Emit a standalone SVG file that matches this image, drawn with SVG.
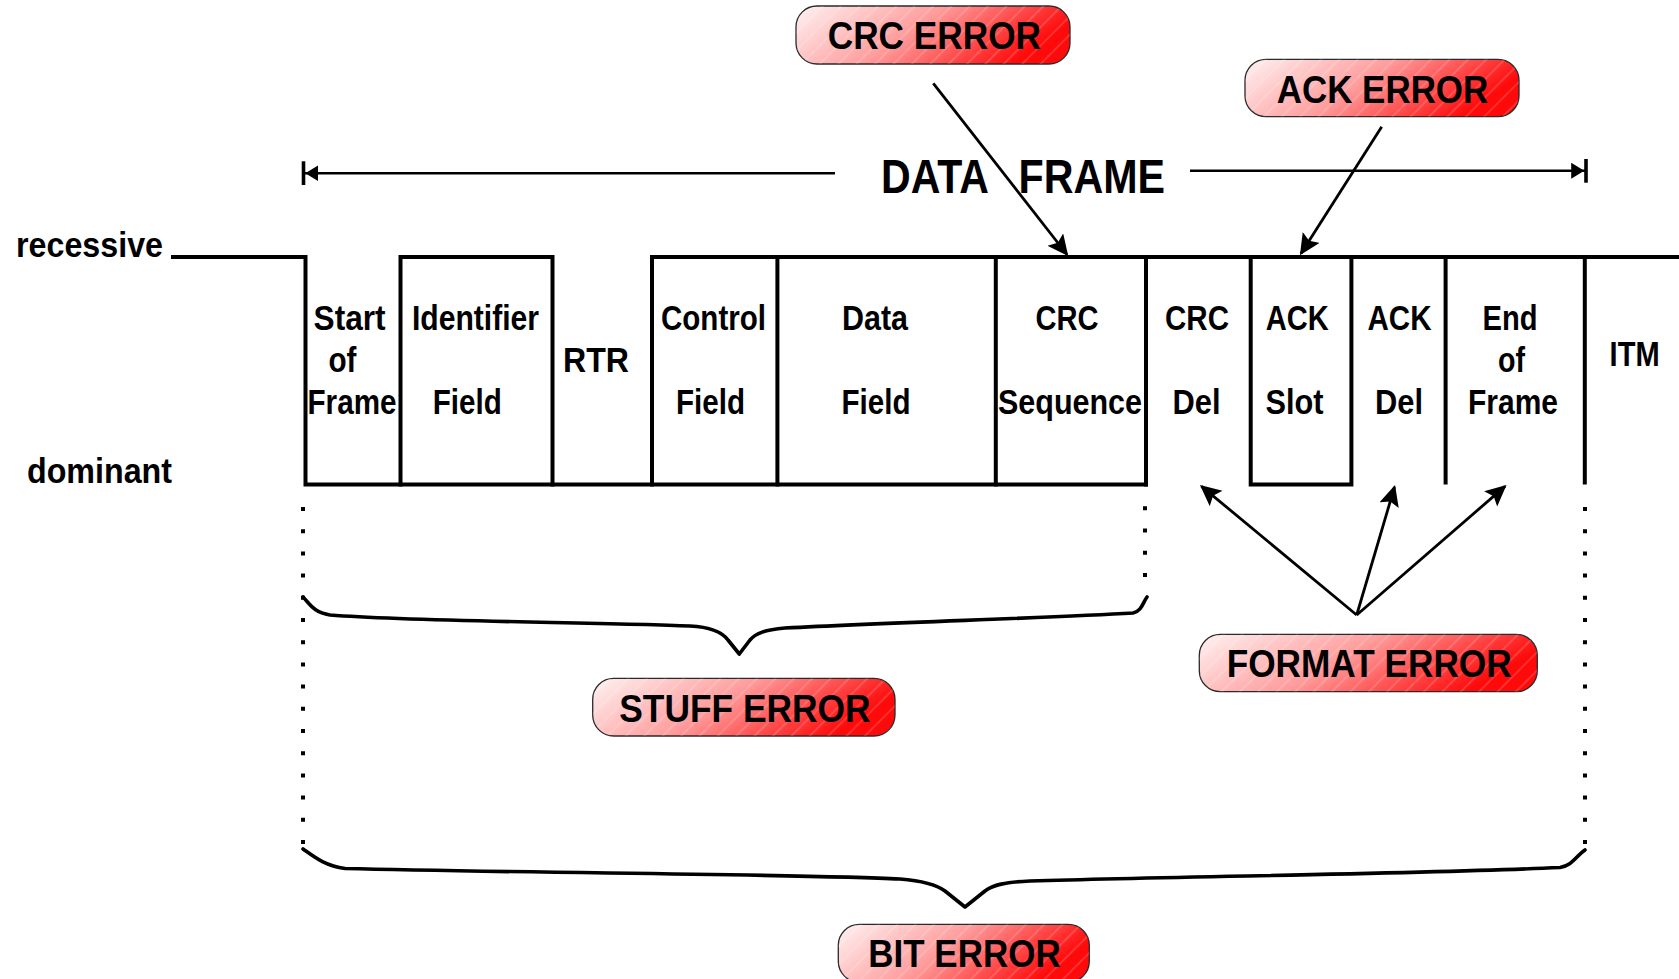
<svg xmlns="http://www.w3.org/2000/svg" width="1679" height="979" viewBox="0 0 1679 979">
  <style>
    .lbl { font-family: "Liberation Sans", Arial, sans-serif; font-weight: bold; font-size: 35px; fill: #000; }
    .big { font-family: "Liberation Sans", Arial, sans-serif; font-weight: bold; font-size: 49px; fill: #000; }
    .tag { font-family: "Liberation Sans", Arial, sans-serif; font-weight: bold; font-size: 39px; fill: #000; }
    .wave { fill: none; stroke: #000; stroke-width: 4; stroke-linecap: square; }
    .dots { fill: none; stroke: #000; stroke-width: 4; stroke-dasharray: 4 18.2; }
    .brace { fill: none; stroke: #000; stroke-width: 3.6; stroke-linecap: round; stroke-linejoin: round; }
    .arrow { fill: none; stroke: #000; stroke-width: 2.8; marker-end: url(#head); }
    .span { fill: none; stroke: #000; stroke-width: 2.6; marker-end: url(#barHead); }
    .pill { fill: url(#pillFill); stroke: #2a2a2a; stroke-width: 1.3; }
    .hatch { fill: url(#stripes); stroke: none; }
  </style>
  <defs>
    <linearGradient id="pillFill" x1="0" y1="0" x2="1" y2="0.3">
      <stop offset="0" stop-color="#fff3f3"/>
      <stop offset="0.5" stop-color="#ff9c9c"/>
      <stop offset="1" stop-color="#ff0a0a"/>
    </linearGradient>
    <pattern id="stripes" width="13" height="13" patternUnits="userSpaceOnUse" patternTransform="rotate(45)">
      <line x1="1" y1="0" x2="1" y2="13" stroke="#ffffff" stroke-width="1" stroke-opacity="0.3"/>
    </pattern>
    <marker id="head" markerUnits="userSpaceOnUse" markerWidth="24" markerHeight="22" refX="19" refY="10" orient="auto">
      <path d="M0,0 L21,10 L0,20 L4,10 Z" fill="#000"/>
    </marker>
    <marker id="barHead" markerUnits="userSpaceOnUse" markerWidth="20" markerHeight="26" refX="14.8" refY="12" orient="auto">
      <path d="M0,4 L13,12 L0,20 Z" fill="#000"/>
      <rect x="13" y="0" width="3.6" height="24" fill="#000"/>
    </marker>
  </defs>

  <rect x="0" y="0" width="1679" height="979" fill="#ffffff"/>

  <!-- bus level labels -->
  <g id="levels">
    <text class="lbl" x="16" y="256.5" textLength="147" lengthAdjust="spacingAndGlyphs">recessive</text>
    <text class="lbl" x="27" y="483" textLength="145" lengthAdjust="spacingAndGlyphs">dominant</text>
  </g>

  <!-- bit-level waveform of the frame -->
  <g id="waveform">
    <path class="wave" d="M173,257 H305.5 V484.5 H1146"/>
    <path class="wave" d="M400.5,484.5 V257 H552.5 V484.5"/>
    <path class="wave" d="M652,484.5 V257 H1677"/>
    <path class="wave" d="M777.4,257 V484.5 M995.8,257 V484.5 M1146,257 V484.5"/>
    <path class="wave" d="M1250.7,257 V484.5 H1351.4 V257"/>
    <path class="wave" d="M1445.6,257 V482.5 M1584.8,257 V482.5"/>
  </g>

  <!-- frame fields -->
  <g id="field-sof">
    <text class="lbl" x="313.6" y="330" textLength="72" lengthAdjust="spacingAndGlyphs">Start</text>
    <text class="lbl" x="328.5" y="371.5" textLength="28" lengthAdjust="spacingAndGlyphs">of</text>
    <text class="lbl" x="307.5" y="413.5" textLength="89" lengthAdjust="spacingAndGlyphs">Frame</text>
  </g>
  <g id="field-identifier">
    <text class="lbl" x="412" y="330" textLength="127" lengthAdjust="spacingAndGlyphs">Identifier</text>
    <text class="lbl" x="432.8" y="413.5" textLength="69" lengthAdjust="spacingAndGlyphs">Field</text>
  </g>
  <g id="field-rtr">
    <text class="lbl" x="563" y="372" textLength="66" lengthAdjust="spacingAndGlyphs">RTR</text>
  </g>
  <g id="field-control">
    <text class="lbl" x="661" y="330" textLength="105" lengthAdjust="spacingAndGlyphs">Control</text>
    <text class="lbl" x="676" y="413.5" textLength="69" lengthAdjust="spacingAndGlyphs">Field</text>
  </g>
  <g id="field-data">
    <text class="lbl" x="842" y="330" textLength="66" lengthAdjust="spacingAndGlyphs">Data</text>
    <text class="lbl" x="841.5" y="413.5" textLength="69" lengthAdjust="spacingAndGlyphs">Field</text>
  </g>
  <g id="field-crc-seq">
    <text class="lbl" x="1035.5" y="330" textLength="63" lengthAdjust="spacingAndGlyphs">CRC</text>
    <text class="lbl" x="998" y="413.5" textLength="144" lengthAdjust="spacingAndGlyphs">Sequence</text>
  </g>
  <g id="field-crc-del">
    <text class="lbl" x="1165" y="330" textLength="64" lengthAdjust="spacingAndGlyphs">CRC</text>
    <text class="lbl" x="1172.6" y="413.5" textLength="48" lengthAdjust="spacingAndGlyphs">Del</text>
  </g>
  <g id="field-ack-slot">
    <text class="lbl" x="1265.8" y="330" textLength="63" lengthAdjust="spacingAndGlyphs">ACK</text>
    <text class="lbl" x="1265.6" y="413.5" textLength="58" lengthAdjust="spacingAndGlyphs">Slot</text>
  </g>
  <g id="field-ack-del">
    <text class="lbl" x="1367.5" y="330" textLength="64" lengthAdjust="spacingAndGlyphs">ACK</text>
    <text class="lbl" x="1375" y="413.5" textLength="48" lengthAdjust="spacingAndGlyphs">Del</text>
  </g>
  <g id="field-eof">
    <text class="lbl" x="1482.5" y="330" textLength="55" lengthAdjust="spacingAndGlyphs">End</text>
    <text class="lbl" x="1498" y="371.5" textLength="27" lengthAdjust="spacingAndGlyphs">of</text>
    <text class="lbl" x="1468" y="413.5" textLength="90" lengthAdjust="spacingAndGlyphs">Frame</text>
  </g>
  <g id="field-itm">
    <text class="lbl" x="1609.6" y="366" textLength="50" lengthAdjust="spacingAndGlyphs">ITM</text>
  </g>

  <!-- DATA FRAME span title -->
  <g id="data-frame">
    <text class="big" x="881" y="193.3" textLength="108" lengthAdjust="spacingAndGlyphs">DATA</text>
    <text class="big" x="1018.5" y="193.3" textLength="146.5" lengthAdjust="spacingAndGlyphs">FRAME</text>
  </g>

  <!-- error tags -->
  <g id="crc-error">
    <rect class="pill" x="796" y="6" width="274" height="58" rx="21"/>
    <rect class="hatch" x="796" y="6" width="274" height="58" rx="21"/>
    <text class="tag" x="827.7" y="49" textLength="213.3" lengthAdjust="spacingAndGlyphs">CRC ERROR</text>
  </g>
  <g id="ack-error">
    <rect class="pill" x="1245" y="59.3" width="274" height="57.4" rx="21"/>
    <rect class="hatch" x="1245" y="59.3" width="274" height="57.4" rx="21"/>
    <text class="tag" x="1276.7" y="102.5" textLength="211.6" lengthAdjust="spacingAndGlyphs">ACK ERROR</text>
  </g>
  <g id="format-error">
    <rect class="pill" x="1199.3" y="634.3" width="338" height="57.4" rx="21"/>
    <rect class="hatch" x="1199.3" y="634.3" width="338" height="57.4" rx="21"/>
    <text class="tag" x="1226.7" y="677.3" textLength="285" lengthAdjust="spacingAndGlyphs">FORMAT ERROR</text>
  </g>
  <g id="stuff-error">
    <rect class="pill" x="592.7" y="678.3" width="302.3" height="57.7" rx="21"/>
    <rect class="hatch" x="592.7" y="678.3" width="302.3" height="57.7" rx="21"/>
    <text class="tag" x="619.3" y="721.5" textLength="251.3" lengthAdjust="spacingAndGlyphs">STUFF ERROR</text>
  </g>
  <g id="bit-error">
    <rect class="pill" x="838.3" y="924.3" width="251" height="58" rx="21"/>
    <rect class="hatch" x="838.3" y="924.3" width="251" height="58" rx="21"/>
    <text class="tag" x="868.3" y="967.3" textLength="192.4" lengthAdjust="spacingAndGlyphs">BIT ERROR</text>
  </g>

  <!-- extent markers: dotted guides and braces -->
  <g id="extents">
    <line class="dots" x1="303" y1="507" x2="303" y2="845"/>
    <line class="dots" x1="1145" y1="506.3" x2="1145" y2="578"/>
    <line class="dots" x1="1585" y1="507" x2="1585" y2="845"/>
    <path class="brace" d="M303,597 C310,604 313,612 330,615 C420,622 600,622 690,626 C710,627 722,632 728,640 L739.3,654 L750,640 C756,633 765,630 785,628 C900,622 1050,618 1133,613 C1142,611 1143,602 1147,597"/>
    <path class="brace" d="M303,849 C313,856 325,866 345,868.5 C520,873 800,874 900,879 C925,881 937,885 945,891 L965,907 L985,891 C993,885 1005,882 1030,881 C1200,876 1420,874 1560,867.5 C1572,866 1576,856 1585,850"/>
  </g>

  <!-- connectors -->
  <g id="connectors">
    <line class="span" x1="835" y1="173.3" x2="303.5" y2="173.3"/>
    <line class="span" x1="1190" y1="170.7" x2="1586" y2="170.7"/>
    <line class="arrow" x1="933.3" y1="83.3" x2="1067" y2="254.5"/>
    <line class="arrow" x1="1381.7" y1="126.7" x2="1301" y2="253.5"/>
    <line class="arrow" x1="1356.7" y1="615" x2="1201.5" y2="486.3"/>
    <line class="arrow" x1="1356.7" y1="615" x2="1394.5" y2="487"/>
    <line class="arrow" x1="1356.7" y1="615" x2="1505" y2="486.4"/>
  </g>
</svg>
